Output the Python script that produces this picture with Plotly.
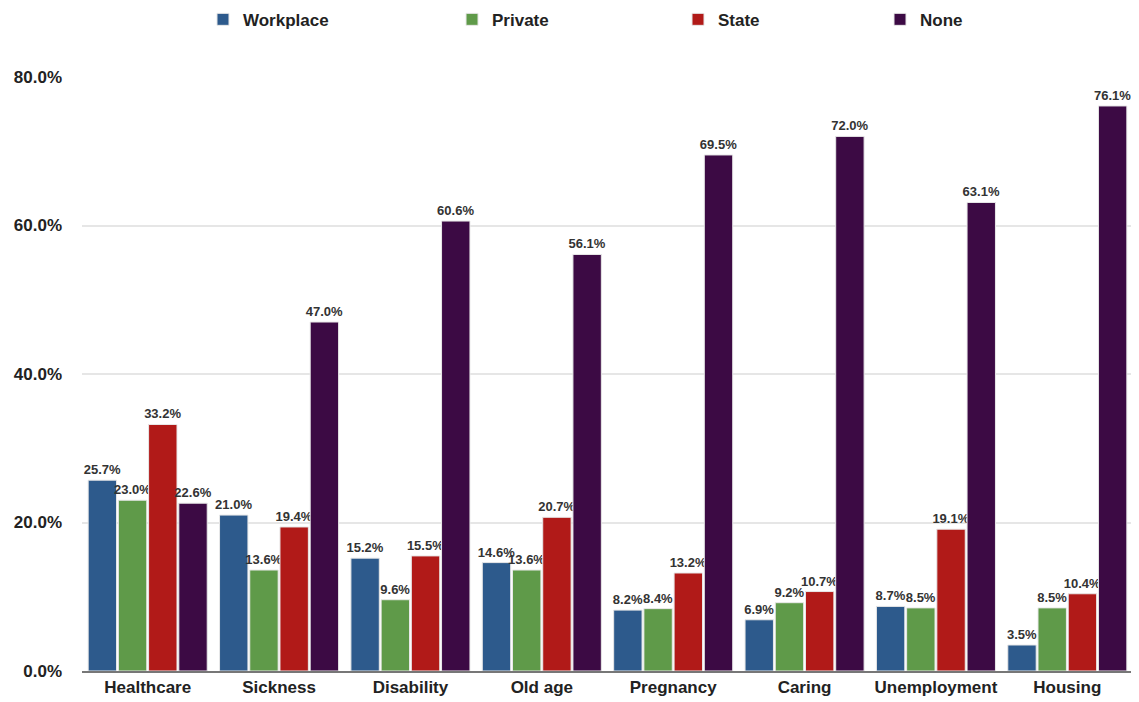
import plotly.graph_objects as go

categories = ["Healthcare", "Sickness", "Disability", "Old age", "Pregnancy", "Caring", "Unemployment", "Housing"]
workplace = [25.7, 21.0, 15.2, 14.6, 8.2, 6.9, 8.7, 3.5]
private = [23.0, 13.6, 9.6, 13.6, 8.4, 9.2, 8.5, 8.5]
state = [33.2, 19.4, 15.5, 20.7, 13.2, 10.7, 19.1, 10.4]
none = [22.6, 47.0, 60.6, 56.1, 69.5, 72.0, 63.1, 76.1]
y_ticks = [0, 20, 40, 60, 80]
y_ticktext = ["0.0%", "20.0%", "40.0%", "60.0%", "80.0%"]

series = [
    ("Workplace", workplace, "#2d5a8c", "legend", 0.1724),
    ("Private", private, "#5f9a49", "legend2", 0.3926),
    ("State", state, "#b11a18", "legend3", 0.5924),
    ("None", none, "#3c0a44", "legend4", 0.7710),
]

FONT = "Liberation Sans"

fig = go.Figure()
legends = {}
for name, vals, col, lg, lx in series:
    fig.add_trace(go.Bar(
        name=name, x=categories, y=vals, legend=lg,
        marker=dict(color=col, line=dict(color="#e8e8e8", width=1)),
        texttemplate="<b>%{y:.1f}%</b>", textposition="outside",
        textfont=dict(size=13, color="#333333", family=FONT),
        cliponaxis=False, constraintext="none",
    ))
    legends[lg] = dict(orientation="h", xref="container", x=lx, xanchor="left",
                       yref="container", y=0.983, yanchor="middle",
                       bgcolor="rgba(0,0,0,0)",
                       font=dict(size=17, color="#222222", weight="bold"))

fig.update_layout(
    width=1131, height=694,
    margin=dict(l=74, r=6, t=69, b=31),
    paper_bgcolor="white", plot_bgcolor="white",
    barmode="group", bargap=0.08, bargroupgap=0.06,
    font=dict(family=FONT, size=14, color="#222222"),
    showlegend=True,
    xaxis=dict(showline=True, linecolor="#777777", linewidth=2, ticks="",
               tickfont=dict(size=17, color="#222222", weight="bold")),
    yaxis=dict(range=[0, 80], tickvals=y_ticks, ticktext=y_ticktext,
               showgrid=True, gridcolor="#e6e6e6", gridwidth=1.5, zeroline=False,
               tickfont=dict(size=17, color="#222222", weight="bold"), ticklabelstandoff=19),
    **legends,
)

fig.write_html("out.html")
